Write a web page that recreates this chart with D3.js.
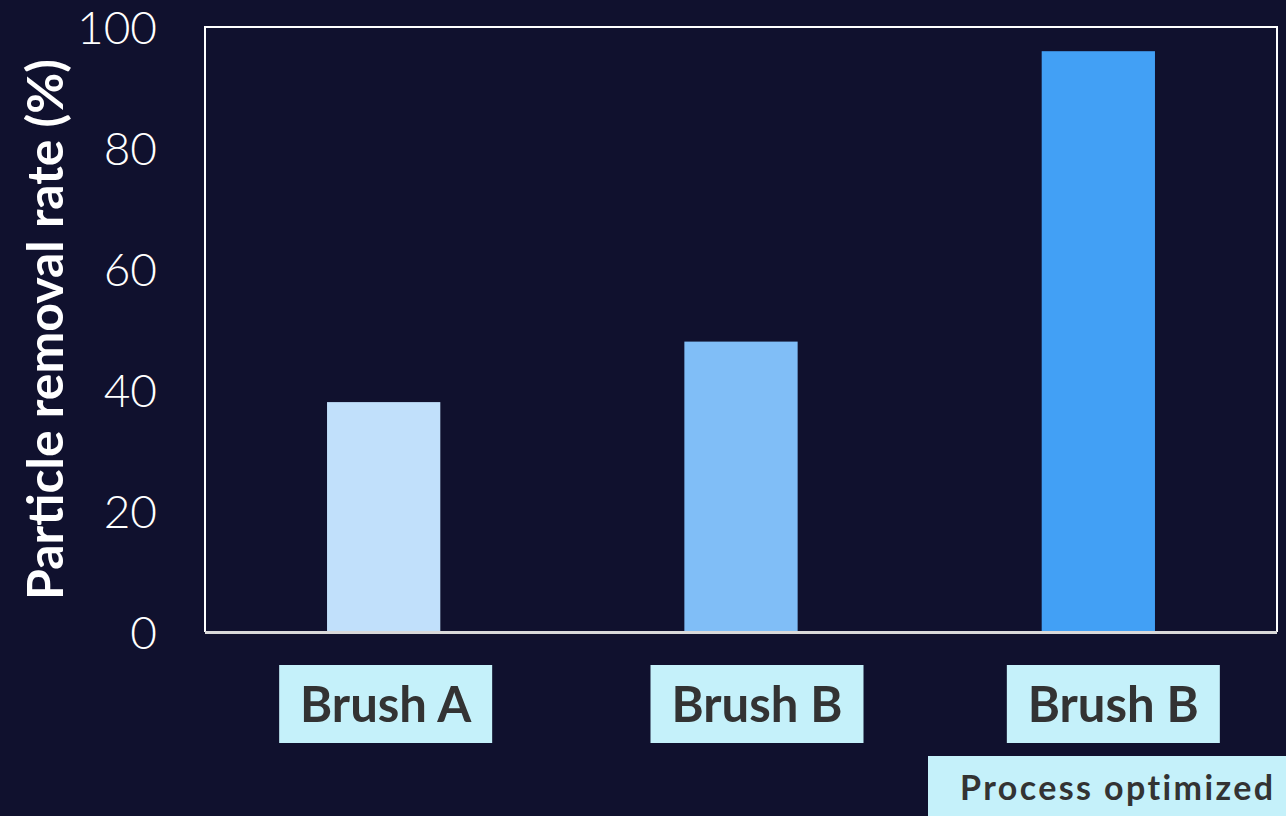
<!DOCTYPE html>
<html>
<head>
<meta charset="utf-8">
<script src="https://cdn.jsdelivr.net/npm/d3@7"></script>
<style>
  html, body { margin: 0; padding: 0; background: #10112e; }
  svg { display: block; }
</style>
</head>
<body>
<svg id="chart" width="1286" height="816"></svg>
<script>
// Chart data
const categories = ["Brush A", "Brush B", "Brush B optimized"];
const labels = ["Brush A", "Brush B", "Brush B"];
const values = [38, 48, 96];
const barColors = ["#c1e0fb", "#80bef7", "#42a0f5"];
const yTicks = [0, 20, 40, 60, 80, 100];
const subLabel = "Process optimized";
const yTitle = "Particle removal rate (%)";

const W = 1286, H = 816;
const margin = { left: 205, top: 27, right: 9, bottom: 184 };
const plotW = W - margin.left - margin.right;
const plotH = H - margin.top - margin.bottom;
const FONT = "Lato, 'Open Sans', sans-serif";

const svg = d3.select("#chart");
svg.append("rect").attr("width", W).attr("height", H).attr("fill", "#10112e");

const g = svg.append("g").attr("transform", `translate(${margin.left},${margin.top})`);

const x = d3.scaleBand().domain(categories).range([0, plotW])
  .paddingInner(0.683).paddingOuter(0.3415);
const y = d3.scaleLinear().domain([0, 100]).range([plotH, 0]);

// Bars
g.selectAll("rect.bar").data(values).join("rect")
  .attr("class", "bar")
  .attr("x", (d, i) => x(categories[i]))
  .attr("width", x.bandwidth())
  .attr("y", d => y(d))
  .attr("height", d => y(0) - y(d))
  .attr("fill", (d, i) => barColors[i]);

// Frame
g.append("path")
  .attr("d", `M0,${plotH} V0 H${plotW} V${plotH}`)
  .attr("fill", "none").attr("stroke", "#ffffff").attr("stroke-width", 2);
g.append("line")
  .attr("x1", 0).attr("x2", plotW).attr("y1", plotH + 0.5).attr("y2", plotH + 0.5)
  .attr("stroke", "#d9d9d9").attr("stroke-width", 3);

// Y axis
const yAxis = d3.axisLeft(y).tickValues(yTicks).tickSize(0).tickPadding(48);
const ya = g.append("g").call(yAxis);
ya.select(".domain").remove();
ya.selectAll("text")
  .attr("fill", "#ffffff")
  .style("font-family", FONT)
  .style("font-weight", 300)
  .style("font-size", "46px")
  .attr("dy", "0.36em");

// Y title
svg.append("text")
  .attr("transform", `translate(63,${margin.top + plotH / 2}) rotate(-90)`)
  .attr("text-anchor", "middle")
  .attr("fill", "#ffffff")
  .style("font-family", FONT)
  .style("font-weight", 700)
  .style("font-size", "50px")
  .text(yTitle);

// Category label boxes (slightly shifted right of the bar centres)
const boxW = 213, boxH = 78, boxTop = 665;
const boxShift = [2, 16, 15];
const lab = svg.append("g");
categories.forEach((c, i) => {
  const cx = margin.left + x(c) + x.bandwidth() / 2 + boxShift[i];
  lab.append("rect")
    .attr("x", cx - boxW / 2).attr("y", boxTop)
    .attr("width", boxW).attr("height", boxH)
    .attr("fill", "#c5f1fa");
  lab.append("text")
    .attr("x", cx).attr("y", boxTop + 57)
    .attr("text-anchor", "middle")
    .attr("fill", "#333333")
    .style("font-family", FONT)
    .style("font-weight", 700)
    .style("font-size", "49px")
    .text(labels[i]);
});

// Sub label for the optimized process
lab.append("rect")
  .attr("x", 928).attr("y", 756)
  .attr("width", W - 928).attr("height", H - 756)
  .attr("fill", "#c5f1fa");
lab.append("text")
  .attr("x", 960).attr("y", 800)
  .attr("fill", "#333333")
  .style("font-family", FONT)
  .style("font-weight", 700)
  .style("font-size", "34px")
  .style("letter-spacing", "2.4px")
  .text(subLabel);
</script>
</body>
</html>
